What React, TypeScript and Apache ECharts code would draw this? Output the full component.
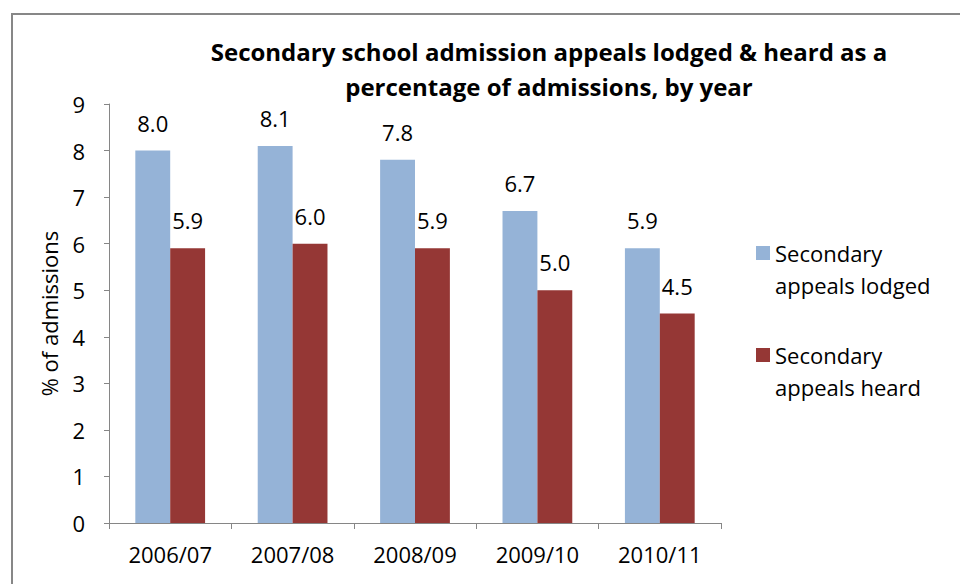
import React, { useEffect, useRef } from "react";
import * as echarts from "echarts";

const categories = ["2006/07", "2007/08", "2008/09", "2009/10", "2010/11"];
const lodged = [8.0, 8.1, 7.8, 6.7, 5.9];
const heard = [5.9, 6.0, 5.9, 5.0, 4.5];
const seriesNames = ["Secondary appeals lodged", "Secondary appeals heard"];
const titleText = "Secondary school admission appeals lodged & heard as a\npercentage of admissions, by year";
const yAxisName = "% of admissions";

const FONT = "Open Sans";

export default function App() {
  const ref = useRef<HTMLDivElement>(null);
  useEffect(() => {
    document.body.style.margin = "0";
    if (!ref.current) return;
    const chart = echarts.init(ref.current, undefined, { renderer: "svg" });
    const labelOpt = {
      show: true,
      position: "top" as const,
      distance: 17,
      color: "#000",
      fontFamily: FONT,
      fontSize: 22,
      formatter: (p: any) => Number(p.value).toFixed(1),
    };
    chart.setOption({
      animation: false,
      backgroundColor: "#fff",
      textStyle: { fontFamily: FONT },
      title: {
        text: titleText,
        left: 544,
        top: 29,
        textAlign: "center",
        textStyle: {
          fontFamily: FONT,
          fontWeight: "bold",
          fontSize: 24,
          lineHeight: 35,
          color: "#000",
        },
      },
      legend: {
        orient: "vertical",
        left: 751,
        top: 232,
        itemWidth: 14,
        itemHeight: 46,
        itemGap: 38,
        icon: "path://M0,0L14,0L14,14L0,14Z M0,46L14,46",
        formatter: (name: string) => name.replace(/^Secondary /, "Secondary\n"),
        textStyle: {
          fontFamily: FONT,
          fontSize: 22,
          lineHeight: 32,
          color: "#000",
          padding: [0, 0, 0, 0],
        },
        data: seriesNames,
      },
      grid: { left: 109, right: 239, top: 104, bottom: 61 },
      xAxis: {
        type: "category",
        data: categories,
        axisLine: { lineStyle: { color: "#868686", width: 1 } },
        axisTick: { show: true, length: 6, lineStyle: { color: "#868686" } },
        axisLabel: { color: "#000", fontFamily: FONT, fontSize: 22, margin: 20 },
      },
      yAxis: {
        type: "value",
        min: 0,
        max: 9,
        interval: 1,
        name: yAxisName,
        nameLocation: "middle",
        nameRotate: 90,
        nameGap: 49,
        nameTextStyle: { color: "#000", fontFamily: FONT, fontSize: 22 },
        axisLine: { show: true, lineStyle: { color: "#868686", width: 1 } },
        axisTick: { show: true, length: 5, lineStyle: { color: "#868686" } },
        splitLine: { show: false },
        axisLabel: { color: "#000", fontFamily: FONT, fontSize: 22, margin: 24 },
      },
      series: [
        {
          name: seriesNames[0],
          type: "bar",
          data: lodged,
          barGap: "0%",
          barCategoryGap: "43%",
          itemStyle: { color: "#95B3D7" },
          label: labelOpt,
        },
        {
          name: seriesNames[1],
          type: "bar",
          data: heard,
          itemStyle: { color: "#953735" },
          label: labelOpt,
        },
      ],
      graphic: [
        {
          type: "polyline",
          shape: { points: [[12, 600], [12, 14], [960, 14]] },
          style: { stroke: "#878787", lineWidth: 2, fill: "none" },
          silent: true,
        },
      ],
    });
    return () => chart.dispose();
  }, []);
  return <div ref={ref} style={{ width: 960, height: 584 }} />;
}
